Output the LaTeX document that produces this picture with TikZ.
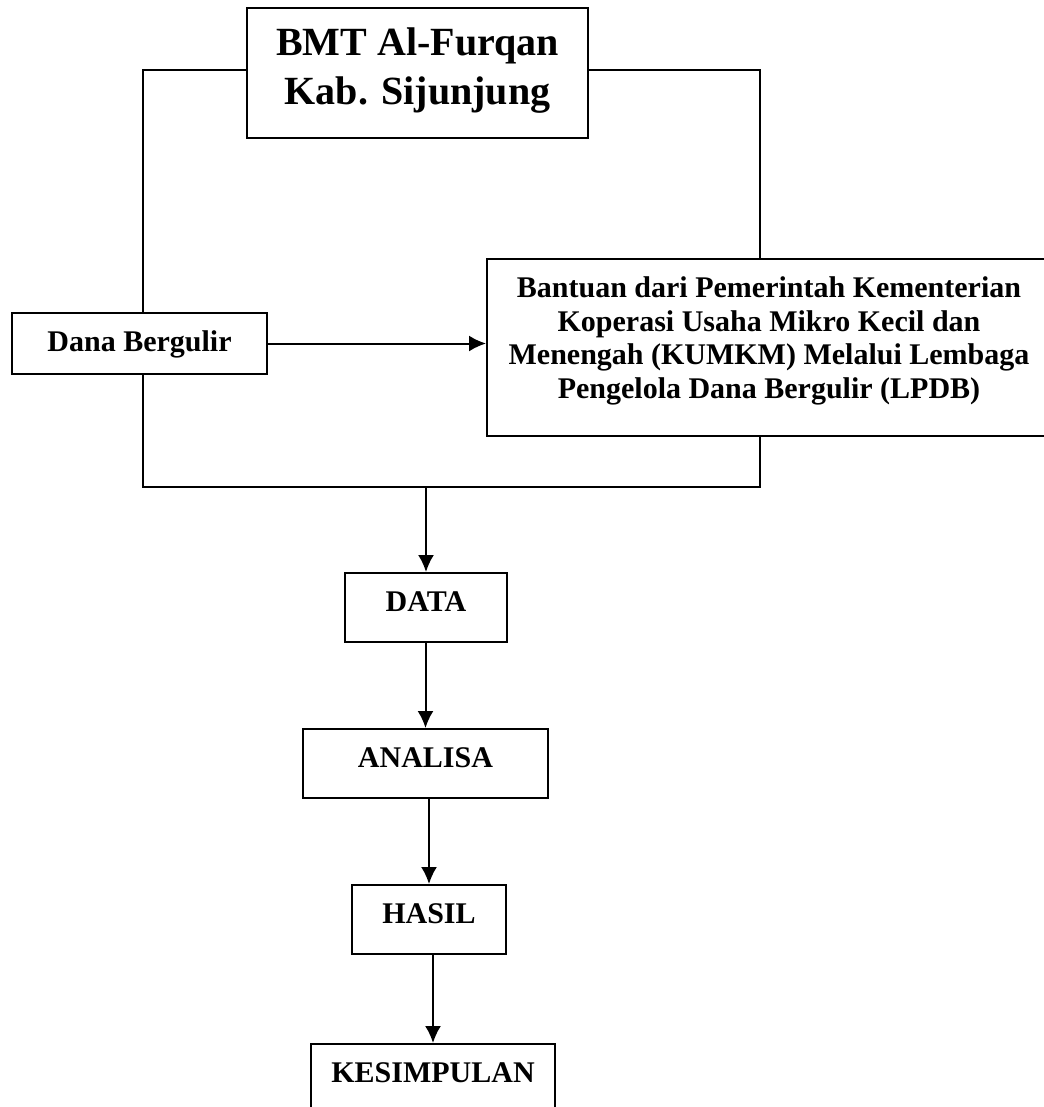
\documentclass[tikz,border=0pt]{standalone}
\usepackage{fontspec}
\setmainfont{Liberation Serif}
\usetikzlibrary{arrows.meta}
\tikzset{
	stepbox/.style={draw, line width=0.8pt, inner sep=2pt, font=\bfseries\fontsize{12}{13.4}\selectfont, text height=8pt, text depth=4.9pt},
	flowline/.style={line width=0.8pt, -{Latex[length=6.8pt, width=6.4pt]}},
}
\begin{document}
\begin{tikzpicture}[x=0.4pt, y=-0.4pt, line width=0.8pt]
			\useasboundingbox (0,0) rectangle (1044,1107);
			\node[stepbox, minimum width=136.4pt, minimum height=52pt, text width=130pt, align=flush center, font=\bfseries\fontsize{16}{19.6}\selectfont, text height=11pt, text depth=25pt] (bmt) at (417.5,73) {BMT Al-Furqan\\Kab. Sijunjung};
			\node[stepbox, minimum width=102pt, minimum height=24.4pt, text height=8.9pt, text depth=2.6pt] (dana) at (139.5,343.5) {Dana Bergulir};
			\node[stepbox, minimum width=225.6pt, minimum height=70.8pt, text width=220pt, align=flush center, text height=8.3pt, text depth=48pt] (lpdb) at (769,347.5) {Bantuan dari Pemerintah Kementerian\\Koperasi Usaha Mikro Kecil dan\\Menengah (KUMKM) Melalui Lembaga\\Pengelola Dana Bergulir (LPDB)};
			\node[stepbox, minimum width=64.8pt, minimum height=27.6pt] (data) at (426,607.5) {DATA};
			\node[stepbox, minimum width=98pt, minimum height=27.6pt] (analisa) at (425.5,763.5) {ANALISA};
			\node[stepbox, minimum width=61.6pt, minimum height=27.6pt] (hasil) at (429,919.5) {HASIL};
			\node[stepbox, minimum width=97.6pt, minimum height=27.6pt] (kesimpulan) at (433,1078.5) {KESIMPULAN};
			\coordinate (tl) at (143,70);
			\coordinate (tr) at (760,70);
			\coordinate (bl) at (143,487);
			\coordinate (br) at (760,487);
			\draw (bmt.west |- tl) -- (tl) -- (dana.north -| tl);
			\draw (bmt.east |- tr) -- (tr) -- (lpdb.north -| tr);
			\draw (dana.south -| bl) -- (bl) -- (br) -- (lpdb.south -| br);
			\draw[flowline] (dana.east) -- (dana.east -| lpdb.west);
			\draw[flowline] (data.north |- bl) -- (data);
			\draw[flowline] (data.south -| analisa) -- (analisa);
			\draw[flowline] (analisa.south -| hasil) -- (hasil);
			\draw[flowline] (hasil.south -| kesimpulan) -- (kesimpulan);
		\end{tikzpicture}
\end{document}
